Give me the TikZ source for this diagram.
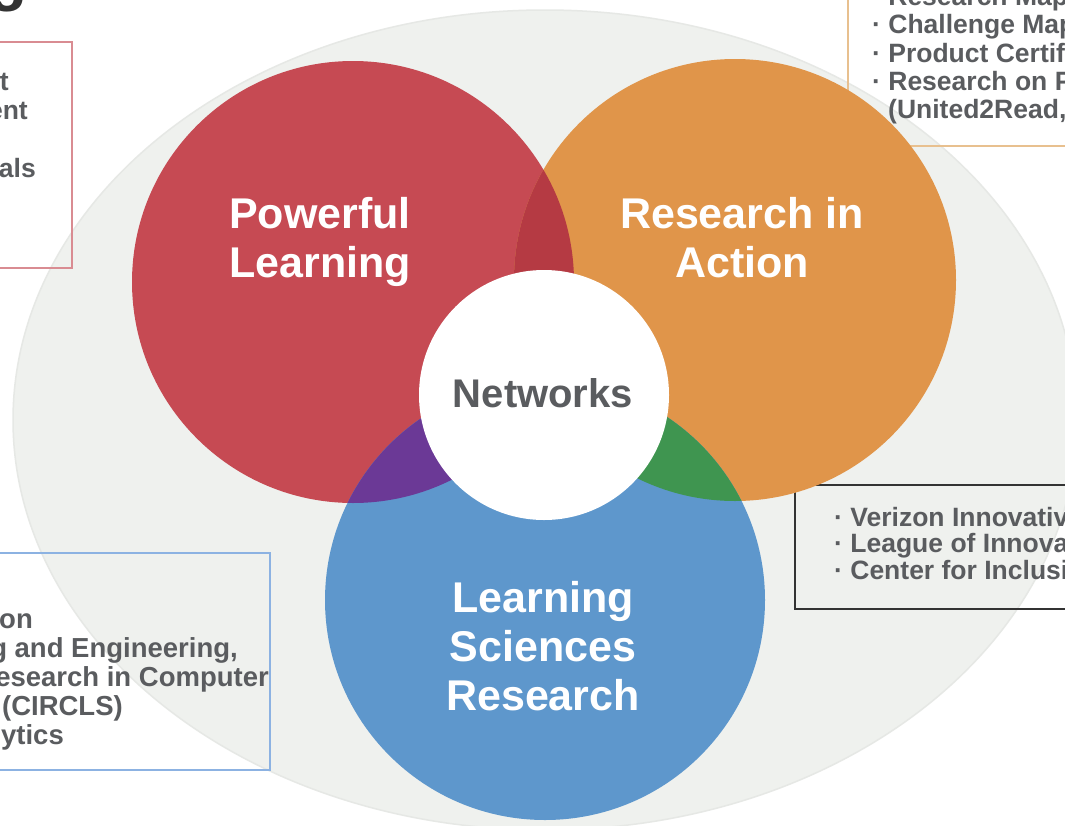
\documentclass[tikz,border=0pt]{standalone}
\usepackage{fontspec}
\setmainfont{Liberation Sans}
\definecolor{bgell}{HTML}{EFF1EE}
\definecolor{bgedge}{HTML}{E6E8E5}
\definecolor{cred}{HTML}{C64A53}
\definecolor{corange}{HTML}{E0954A}
\definecolor{cblue}{HTML}{5E97CC}
\definecolor{ovro}{HTML}{B53A43}
\definecolor{ovrb}{HTML}{6B3996}
\definecolor{ovob}{HTML}{3F9550}
\definecolor{txtgray}{HTML}{5A5C5F}
\definecolor{boxred}{HTML}{D98C92}
\definecolor{boxorange}{HTML}{E8C08F}
\definecolor{boxblue}{HTML}{8CB2E2}
\definecolor{boxdark}{HTML}{333333}
\begin{document}
\begin{tikzpicture}[x=1pt,y=-1pt,
  biglabel/.style={font=\fontsize{43}{49}\selectfont\bfseries, text=white, align=center, inner sep=0pt, anchor=base},
  boxtext/.style={font=\fontsize{26.5}{29}\selectfont\bfseries, text=txtgray, inner sep=0pt},
  boxtextb/.style={font=\fontsize{27.5}{29}\selectfont\bfseries, text=txtgray, inner sep=0pt},
  framebox/.style={line width=1.5pt}
]
\useasboundingbox (0,0) rectangle (1065,825);
\clip (0,0) rectangle (1065,825);
\fill[white] (0,0) rectangle (1065,825);

% coordinates
\coordinate (cR) at (353,282);
\coordinate (cO) at (735,280);
\coordinate (cB) at (545,600);
\coordinate (cW) at (544,395);
\coordinate (cE) at (545,420);

% background ellipse
\fill[bgell, draw=bgedge, line width=1.5pt] (cE) ellipse [x radius=532pt, y radius=410pt];

% title fragment
\node[font=\fontsize{64}{70}\selectfont\bfseries, text=black!80, inner sep=0pt, anchor=base west] (title) at (-12,-2) {g};

% boxes
\draw[framebox, boxred] (-10,42) rectangle (72,268);
\draw[framebox, boxorange] (848,-10) rectangle (1075,146);
\draw[framebox, boxblue] (-10,553) rectangle (270,770);
\draw[line width=1.8pt, boxdark] (795,485) rectangle (1075,609);

% circles
\fill[cred] (cR) circle [radius=221pt];
\fill[corange] (cO) circle [radius=221pt];
\fill[cblue] (cB) circle [radius=220pt];
\begin{scope}
  \clip (cR) circle [radius=221pt];
  \fill[ovro] (cO) circle [radius=221pt];
  \fill[ovrb] (cB) circle [radius=220pt];
\end{scope}
\begin{scope}
  \clip (cO) circle [radius=221pt];
  \fill[ovob] (cB) circle [radius=220pt];
\end{scope}
\fill[white] (cW) circle [radius=125pt];

% circle labels (anchor base = baseline of last line)
\node[biglabel] (pl) at (320,277) {Powerful\\Learning};
\node[biglabel] (ra) at (742,277) {Research in\\Action};
\node[biglabel] (ls) at (543,710) {Learning\\Sciences\\Research};
\node[font=\fontsize{40}{46}\selectfont\bfseries, text=txtgray, inner sep=0pt, anchor=base] (nw) at (543,407) {Networks};

% top-left box fragments
\node[boxtext, anchor=base east] (tl1) at (9,90) {t};
\node[boxtext, anchor=base east] (tl2) at (28,119) {ent};
\node[boxtext, anchor=base east] (tl3) at (36,177) {als};

% top-right box
\node[boxtext, anchor=base west] (tr1) at (872,5) {· Research Map};
\node[boxtext, anchor=base west] (tr2) at (872,33) {· Challenge Map};
\node[boxtext, anchor=base west] (tr3) at (872,62) {· Product Certif};
\node[boxtext, anchor=base west] (tr4) at (872,90) {· Research on P};
\node[boxtext, anchor=base west] (tr5) at (888,118) {(United2Read,};

% right-middle box
\node[boxtext, anchor=base west] (rm1) at (834,526) {· Verizon Innovativ};
\node[boxtext, anchor=base west] (rm2) at (834,552) {· League of Innova};
\node[boxtext, anchor=base west] (rm3) at (834,579) {· Center for Inclusi};

% bottom-left box fragments
\node[boxtextb, anchor=base east] (bl1) at (33,628) {on};
\node[boxtextb, anchor=base east] (bl2) at (238,657) {g and Engineering,};
\node[boxtextb, anchor=base east] (bl3) at (269,686) {esearch in Computer};
\node[boxtextb, anchor=base east] (bl4) at (123,715) {(CIRCLS)};
\node[boxtextb, anchor=base east] (bl5) at (64,744) {ytics};
\end{tikzpicture}
\end{document}
